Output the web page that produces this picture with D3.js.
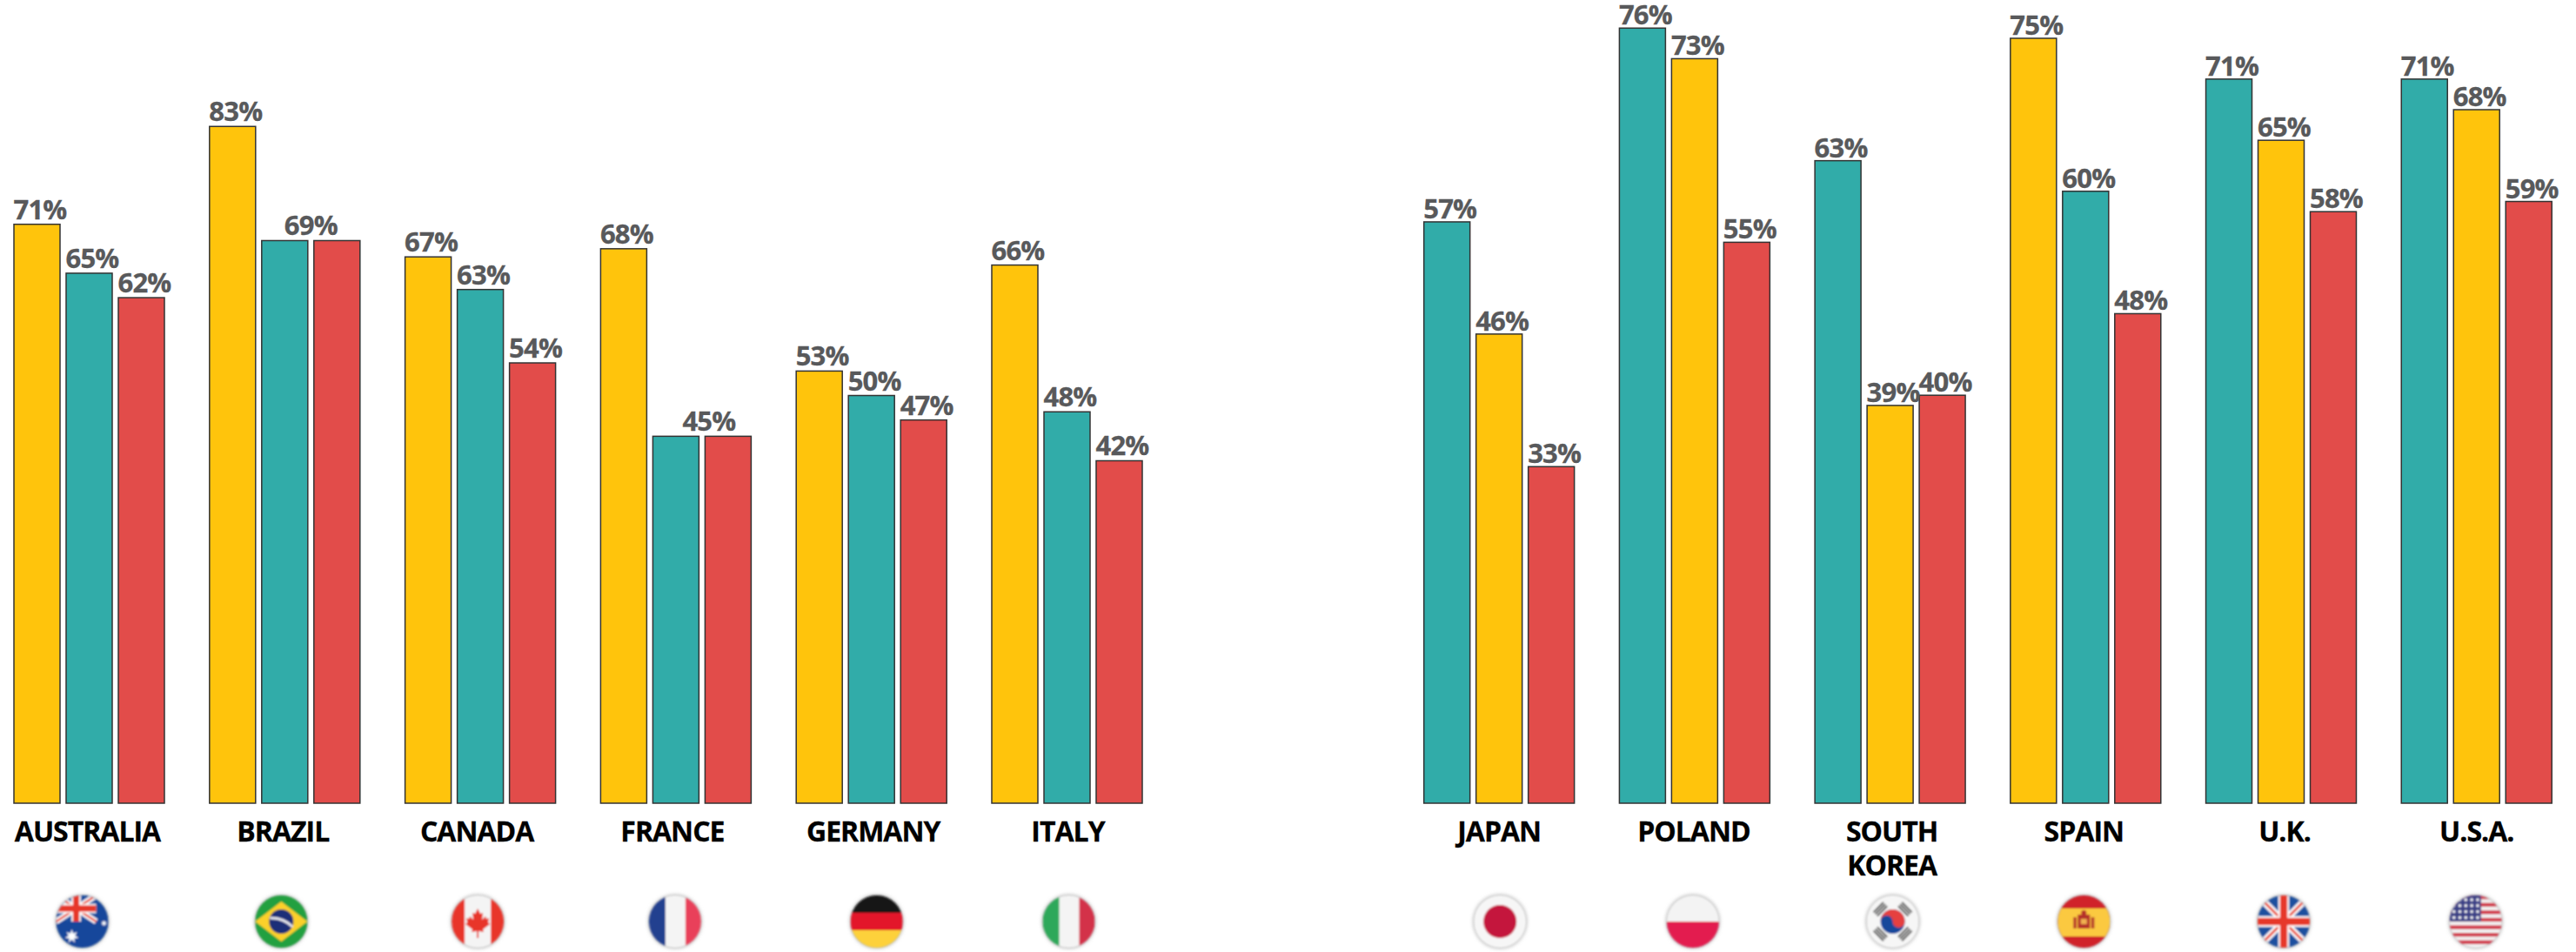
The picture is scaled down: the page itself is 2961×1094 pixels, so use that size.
<!DOCTYPE html>
<html>
<head>
<meta charset="utf-8">
<script src="https://cdnjs.cloudflare.com/ajax/libs/d3/7.8.5/d3.min.js"></script>
<style>
  html, body { margin: 0; padding: 0; background: #fff; }
  svg { display: block; }
  text { font-family: "Open Sans", sans-serif; font-weight: 700; }
  .value { font-size: 31px; fill: #58595b; letter-spacing: -0.8px; stroke: #58595b; stroke-width: 0.3px; }
  .tick text { font-size: 32px; fill: #000; letter-spacing: -1px; stroke: #000; stroke-width: 0.3px; }
</style>
</head>
<body>
<div id="chart"></div>
<script>
// left panel
var countriesLeft = ["AUSTRALIA", "BRAZIL", "CANADA", "FRANCE", "GERMANY", "ITALY"];
var yellowLeft = [71, 83, 67, 68, 53, 66];
var tealLeft = [65, 69, 63, 45, 50, 48];
var redLeft = [62, 69, 54, 45, 47, 42];

// right panel
var countriesRight = ["JAPAN", "POLAND", "SOUTH KOREA", "SPAIN", "U.K.", "U.S.A."];
var tealRight = [57, 76, 63, 60, 71, 71];
var yellowRight = [46, 73, 39, 75, 65, 68];
var redRight = [33, 55, 40, 48, 58, 59];

var colors = { yellow: "#ffc40c", teal: "#31aca9", red: "#e24c4a" };

var width = 2961,
    height = 1094,
    baseline = 923,
    flagY = 1059,
    flagR = 30;

// the labels and flags in the original sit a little off the group centre
var labelNudge = { "AUSTRALIA": -2, "BRAZIL": -2, "CANADA": -4, "FRANCE": -4, "GERMANY": 2, "ITALY": 1,
    "JAPAN": 0, "POLAND": -1, "SOUTH KOREA": 2, "SPAIN": -2, "U.K.": 4, "U.S.A.": 0 };
var flagNudge = { "AUSTRALIA": -8, "BRAZIL": -4, "CANADA": -3, "FRANCE": -1, "GERMANY": 6, "ITALY": 2,
    "JAPAN": 1, "POLAND": -2, "SOUTH KOREA": 3, "SPAIN": -2, "U.K.": 3, "U.S.A.": -1 };
var mergedNudge = { "BRAZIL": 0, "FRANCE": 8 };

var svg = d3.select("#chart").append("svg")
    .attr("width", width)
    .attr("height", height);

var defs = svg.append("defs");
defs.append("filter").attr("id", "soft")
    .attr("x", "-20%").attr("y", "-20%").attr("width", "140%").attr("height", "140%")
    .append("feGaussianBlur").attr("stdDeviation", 1);
defs.append("filter").attr("id", "shadow")
    .attr("x", "-30%").attr("y", "-30%").attr("width", "160%").attr("height", "160%")
    .append("feGaussianBlur").attr("stdDeviation", 2.2);
defs.append("clipPath").attr("id", "disc")
    .append("circle").attr("r", flagR);

function rect(g, x, y, w, h, fill) {
    g.append("rect").attr("x", x).attr("y", y).attr("width", w).attr("height", h).attr("fill", fill);
}

function star(g, cx, cy, r, points) {
    var pts = d3.range(points * 2).map(function (i) {
        return [i * Math.PI / points, i % 2 ? r * 0.45 : r];
    });
    g.append("path")
        .attr("d", d3.lineRadial().curve(d3.curveLinearClosed)(pts))
        .attr("transform", "translate(" + cx + "," + cy + ")")
        .attr("fill", "#fff");
}

function unionJack(g, x, y, w, h, sw) {
    var u = g.append("g");
    rect(u, x, y, w, h, "#1d4f9f");
    u.append("path").attr("d", "M" + x + " " + y + "L" + (x + w) + " " + (y + h) + "M" + (x + w) + " " + y + "L" + x + " " + (y + h))
        .attr("stroke", "#fff").attr("stroke-width", sw * 1.1);
    u.append("path").attr("d", "M" + x + " " + y + "L" + (x + w) + " " + (y + h) + "M" + (x + w) + " " + y + "L" + x + " " + (y + h))
        .attr("stroke", "#e8402c").attr("stroke-width", sw * 0.4);
    rect(u, x + w / 2 - sw * 0.9, y, sw * 1.8, h, "#fff");
    rect(u, x, y + h / 2 - sw * 0.9, w, sw * 1.8, "#fff");
    rect(u, x + w / 2 - sw * 0.6, y, sw * 1.2, h, "#e6392a");
    rect(u, x, y + h / 2 - sw * 0.6, w, sw * 1.2, "#e6392a");
}

var flags = {
    "AUSTRALIA": function (g) {
        rect(g, -30, -30, 60, 60, "#13469b");
        unionJack(g, -30, -30, 46, 30, 6);
        star(g, -12, 17, 8, 7);
        star(g, 25, 2, 3.5, 7);
    },
    "BRAZIL": function (g) {
        rect(g, -30, -30, 60, 60, "#22a03f");
        g.append("path").attr("d", "M-30 0L0 -23L30 0L0 23Z").attr("fill", "#fcd02c");
        g.append("circle").attr("r", 14).attr("fill", "#1f2f78");
        g.append("path").attr("d", "M-13 -4Q2 -5 13 6").attr("fill", "none").attr("stroke", "#e8e8ef").attr("stroke-width", 3);
    },
    "CANADA": function (g) {
        rect(g, -30, -30, 60, 60, "#f4f4f4");
        rect(g, -30, -30, 15, 60, "#e8342a");
        rect(g, 15, -30, 15, 60, "#e8342a");
        g.append("path")
            .attr("d", "M0 -15L3 -9L6 -10L5 -2L9 -6L10 -3L13 -4L12 1L14 3L6 9L7 12L1 11L1 19L-1 19L-1 11L-7 12L-6 9L-14 3L-12 1L-13 -4L-10 -3L-9 -6L-5 -2L-6 -10L-3 -9Z")
            .attr("fill", "#e8342a");
    },
    "FRANCE": function (g) {
        rect(g, -30, -30, 60, 60, "#f4f4f4");
        rect(g, -30, -30, 19, 60, "#24408f");
        rect(g, 12, -30, 18, 60, "#e9415a");
    },
    "GERMANY": function (g) {
        rect(g, -30, -30, 60, 20, "#141414");
        rect(g, -30, -10, 60, 20, "#e3162a");
        rect(g, -30, 10, 60, 20, "#fdd13a");
    },
    "ITALY": function (g) {
        rect(g, -30, -30, 60, 60, "#f4f4f4");
        rect(g, -30, -30, 19, 60, "#2fa85a");
        rect(g, 12, -30, 18, 60, "#d33049");
    },
    "JAPAN": function (g) {
        rect(g, -30, -30, 60, 60, "#f6f6f6");
        g.append("circle").attr("r", 19).attr("fill", "#c4143e");
    },
    "POLAND": function (g) {
        rect(g, -30, -30, 60, 30, "#f3f3f3");
        rect(g, -30, 0, 60, 30, "#e31f4f");
    },
    "SOUTH KOREA": function (g) {
        rect(g, -30, -30, 60, 60, "#f6f6f6");
        g.append("circle").attr("r", 14).attr("fill", "#13469b");
        g.append("path").attr("d", "M-14 0A14 14 0 0 1 14 0A7 7 0 0 1 0 0A7 7 0 0 0 -14 0Z").attr("fill", "#e54040");
        [45, 135, 225, 315].forEach(function (a) {
            var t = g.append("g").attr("transform", "rotate(" + a + ")");
            [-24, -21, -18].forEach(function (yy) {
                rect(t, -8, yy, 16, 1.8, "#333");
            });
        });
    },
    "SPAIN": function (g) {
        rect(g, -30, -30, 60, 60, "#d0202c");
        rect(g, -30, -15, 60, 32, "#fbc93f");
        rect(g, -7, -8, 14, 16, "#b5302a");
        rect(g, -12, -5, 3.5, 13, "#b5302a");
        rect(g, 8.5, -5, 3.5, 13, "#b5302a");
        g.append("circle").attr("cy", -10).attr("r", 3).attr("fill", "#b5302a");
        rect(g, -3.5, -3, 7, 6, "#f0b050");
    },
    "U.K.": function (g) {
        unionJack(g, -30, -30, 60, 60, 7);
    },
    "U.S.A.": function (g) {
        rect(g, -30, -30, 60, 60, "#f2f2f2");
        d3.range(7).forEach(function (i) {
            rect(g, -30, -30 + i * 8.6, 60, 4.3, "#d1374a");
        });
        rect(g, -30, -30, 36, 30, "#3a3f86");
        d3.range(4).forEach(function (r) {
            d3.range(5).forEach(function (c) {
                g.append("circle").attr("cx", -25 + c * 6.8).attr("cy", -25 + r * 6.8).attr("r", 1.7).attr("fill", "#fff");
            });
        });
    }
};

function drawPanel(countries, seriesList, x0, x1, yPerHundred, labelGap) {
    var x = d3.scaleBand().domain(countries).range([x0, x1]).paddingInner(0.2304);
    var inner = d3.scaleBand().domain([0, 1, 2]).range([0, x.bandwidth()]).paddingInner(0.1167);
    var y = d3.scaleLinear().domain([0, 100]).range([baseline, baseline - yPerHundred]);

    var rows = countries.map(function (name, i) {
        var bars = seriesList.map(function (s) {
            return { color: s.color, value: s.values[i] };
        });
        // Spain is the one group on the right with yellow before teal
        if (name === "SPAIN") {
            bars = [bars[1], bars[0], bars[2]];
        }
        return { name: name, bars: bars };
    });

    var group = svg.selectAll(null)
        .data(rows)
        .enter().append("g")
        .attr("transform", function (d) { return "translate(" + x(d.name) + ",0)"; });

    group.selectAll("rect")
        .data(function (d) { return d.bars; })
        .enter().append("rect")
        .attr("x", function (d, i) { return inner(i); })
        .attr("y", function (d) { return y(d.value); })
        .attr("width", inner.bandwidth())
        .attr("height", function (d) { return baseline - y(d.value); })
        .attr("fill", function (d) { return colors[d.color]; })
        .attr("stroke", "#333")
        .attr("stroke-width", 1.5);

    group.each(function (row) {
        var g = d3.select(this);
        row.bars.forEach(function (b, i) {
            var prev = row.bars[i - 1], next = row.bars[i + 1];
            if (prev && prev.value === b.value) return;
            var merged = next && next.value === b.value;
            g.append("text")
                .attr("class", "value")
                .attr("x", merged
                    ? (inner(i) + inner(i + 1) + inner.bandwidth()) / 2 + mergedNudge[row.name]
                    : inner(i) - 0.5)
                .attr("y", y(b.value) - labelGap)
                .attr("text-anchor", merged ? "middle" : "start")
                .text(b.value + "%");
        });
    });

    var axis = svg.append("g")
        .attr("transform", "translate(0," + baseline + ")")
        .call(d3.axisBottom(x).tickSize(0));
    axis.select(".domain").remove();
    axis.selectAll(".tick text").each(function (name) {
        var t = d3.select(this).attr("y", 44).attr("dy", 0).attr("x", labelNudge[name]).text(null);
        name.split(" ").forEach(function (word, i) {
            t.append("tspan").attr("x", labelNudge[name]).attr("dy", i ? 39 : 0).text(word);
        });
    });

    var flag = svg.selectAll(null)
        .data(countries)
        .enter().append("g")
        .attr("transform", function (d) {
            return "translate(" + (x(d) + x.bandwidth() / 2 + flagNudge[d]) + "," + flagY + ")";
        });
    flag.append("circle").attr("r", flagR + 1).attr("fill", "#bbb").attr("filter", "url(#shadow)");
    flag.append("g").attr("filter", "url(#soft)")
        .append("g").attr("clip-path", "url(#disc)")
        .each(function (d) { flags[d](d3.select(this)); });
}

drawPanel(countriesLeft,
    [{ color: "yellow", values: yellowLeft }, { color: "teal", values: tealLeft }, { color: "red", values: redLeft }],
    16, 1313, 937, 6);

drawPanel(countriesRight,
    [{ color: "teal", values: tealRight }, { color: "yellow", values: yellowRight }, { color: "red", values: redRight }],
    1636.7, 2933.2, 1172, 4);
</script>
</body>
</html>
